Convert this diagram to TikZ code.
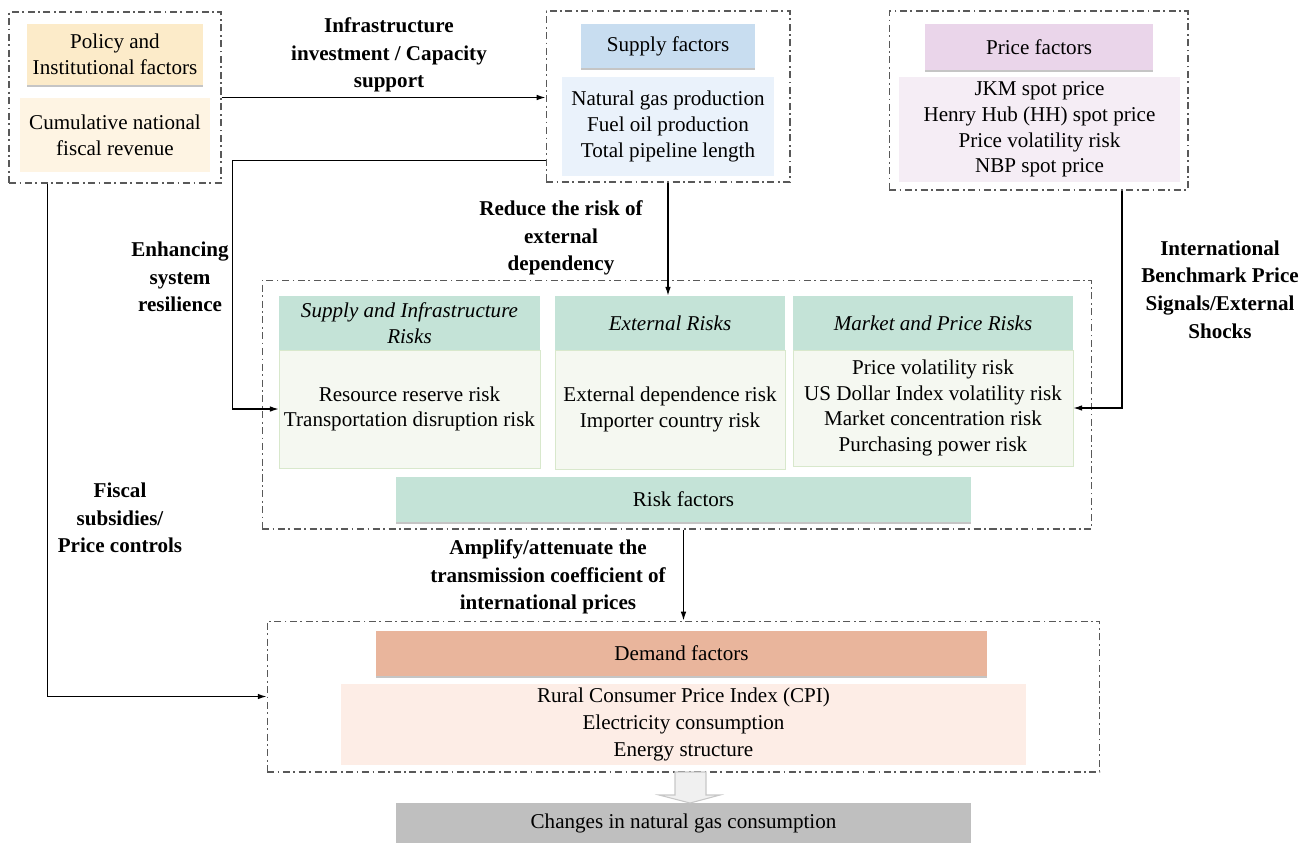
\documentclass[tikz,border=0pt]{standalone}
\usepackage{fontspec}
\setmainfont{Liberation Serif}
\usepackage{tikz}
\usetikzlibrary{arrows.meta,positioning,calc,shadows}
\definecolor{PolHead}{HTML}{FCEBC9}
\definecolor{PolBody}{HTML}{FEF4E3}
\definecolor{SupHead}{HTML}{C8DDF0}
\definecolor{SupBody}{HTML}{EAF2FB}
\definecolor{PriHead}{HTML}{EAD5EA}
\definecolor{PriBody}{HTML}{F5EDF5}
\definecolor{RiskHead}{HTML}{C4E3D7}
\definecolor{RiskBody}{HTML}{F5F8F1}
\definecolor{RiskLine}{HTML}{D8E8CC}
\definecolor{DemHead}{HTML}{E9B59C}
\definecolor{DemBody}{HTML}{FDEDE6}
\definecolor{GasGray}{HTML}{BFBFBF}

\tikzset{
  group/.style={draw=black!65,line width=0.6pt,
    dash pattern=on 4pt off 2pt on 1pt off 2pt,inner sep=0pt},
  headbox/.style={inner sep=0pt,align=center,
    drop shadow={shadow xshift=0pt,shadow yshift=-1.3pt,fill=black!45,opacity=.5}},
  bodybox/.style={inner sep=0pt,align=center},
  flow/.style={line width=0.7pt,-{Latex[length=5pt,width=3.2pt]}},
  lbl/.style={font=\bfseries\fontsize{12}{15.8}\selectfont,align=center}
}

\begin{document}
\begin{tikzpicture}[x=0.02cm,y=-0.02cm,
    every node/.append style={font=\fontsize{12}{14.6}\selectfont}]
  \useasboundingbox (0,0) rectangle (1301,843);

  % policy and institutional factors
  \node[group,minimum width=4.24cm,minimum height=3.42cm] (pol) at (115,97.5) {};
  \node[headbox,fill=PolHead,minimum width=3.52cm,minimum height=1.22cm] (polh) at (115,54.5)
    {Policy and\\Institutional factors};
  \node[bodybox,fill=PolBody,minimum width=3.8cm,minimum height=1.48cm] (polb) at (115,135)
    {Cumulative national\\fiscal revenue};

  % supply factors
  \node[group,minimum width=4.88cm,minimum height=3.42cm] (sup) at (668,96.5) {};
  \node[headbox,fill=SupHead,minimum width=3.48cm,minimum height=0.88cm] (suph) at (668,46)
    {Supply factors};
  \node[bodybox,fill=SupBody,minimum width=4.24cm,minimum height=1.98cm] (supb) at (668,126.5)
    {Natural gas production\\Fuel oil production\\Total pipeline length};

  % price factors
  \node[group,minimum width=5.98cm,minimum height=3.58cm] (pri) at (1038.5,100.5) {};
  \node[headbox,fill=PriHead,minimum width=4.56cm,minimum height=0.92cm] (prih) at (1039,47)
    {Price factors};
  \node[bodybox,fill=PriBody,minimum width=5.62cm,minimum height=2.1cm] (prib) at (1039.5,129.5)
    {JKM spot price\\Henry Hub (HH) spot price\\Price volatility risk\\NBP spot price};

  % risk factors
  \node[group,minimum width=16.6cm,minimum height=4.98cm] (risk) at (677,404.5) {};
  \node[bodybox,fill=RiskHead,minimum width=5.22cm,minimum height=1.08cm,font=\itshape\fontsize{12}{14.6}\selectfont]
    (c1h) at (409.5,323) {Supply and Infrastructure\\Risks};
  \node[bodybox,fill=RiskBody,draw=RiskLine,minimum width=5.22cm,minimum height=2.36cm]
    (c1b) at (409.5,409) {Resource reserve risk\\Transportation disruption risk};
  \node[bodybox,fill=RiskHead,minimum width=4.6cm,minimum height=1.08cm,font=\itshape\fontsize{12}{14.6}\selectfont]
    (c2h) at (670,323) {External Risks};
  \node[bodybox,fill=RiskBody,draw=RiskLine,minimum width=4.6cm,minimum height=2.38cm]
    (c2b) at (670,409.5) {External dependence risk\\Importer country risk};
  \node[bodybox,fill=RiskHead,minimum width=5.6cm,minimum height=1.08cm,font=\itshape\fontsize{12}{14.6}\selectfont]
    (c3h) at (933,323) {Market and Price Risks};
  \node[bodybox,fill=RiskBody,draw=RiskLine,minimum width=5.6cm,minimum height=2.32cm]
    (c3b) at (933,408) {Price volatility risk\\US Dollar Index volatility risk\\Market concentration risk\\Purchasing power risk};
  \node[headbox,fill=RiskHead,minimum width=11.5cm,minimum height=0.9cm] (rf) at (683.5,499.5)
    {Risk factors};

  % demand factors
  \node[group,minimum width=16.66cm,minimum height=3.02cm] (dem) at (683.5,696.5) {};
  \node[headbox,fill=DemHead,minimum width=12.22cm,minimum height=0.9cm] (demh) at (681.5,653.5)
    {Demand factors};
  \node[bodybox,fill=DemBody,minimum width=13.7cm,minimum height=1.62cm] (demb) at (683.5,724.5)
    {Rural Consumer Price Index (CPI)\\[1pt]Electricity consumption\\[1pt]Energy structure};

  % outcome
  \node[bodybox,fill=GasGray,minimum width=11.5cm,minimum height=0.8cm] (gas) at (683.5,823)
    {Changes in natural gas consumption};
  \draw[draw=black!22,fill=black!6,line width=0.6pt]
    (675,772) -- (706,772) -- (706,795) -- (720,795) -- (690,803) -- (659,795) -- (675,795) -- cycle;

  % connectors
  \draw[flow] (pol.east) -- (pol.east -| sup.west);
  \draw[flow] ($(sup.south west)+(0,-22)$) -- ++(-313,0) |- (c1b.west);
  \draw[flow] (sup.south) -- (sup.south |- c2h.north);
  \draw[flow] ([xshift=1.67cm]pri.south) |- (c3b.east);
  \draw[flow] ([xshift=0.78cm]pol.south west) |- (dem.west);
  \draw[flow] (risk.south -| dem.north) -- (dem.north);

  % labels
  \node[lbl] (lbinfra) at (389,55) {Infrastructure\\investment / Capacity\\support};
  \node[lbl] (lbreduce) at (561,238) {Reduce the risk of\\external\\dependency};
  \node[lbl] (lbresil) at (180,277) {Enhancing\\system\\resilience};
  \node[lbl] (lbintl) at (1220,289.5) {International\\Benchmark Price\\Signals/External\\Shocks};
  \node[lbl] (lbfisc) at (120,518) {Fiscal\\subsidies/\\Price controls};
  \node[lbl] (lbamp) at (548,577) {Amplify/attenuate the\\transmission coefficient of\\international prices};
\end{tikzpicture}
\end{document}
